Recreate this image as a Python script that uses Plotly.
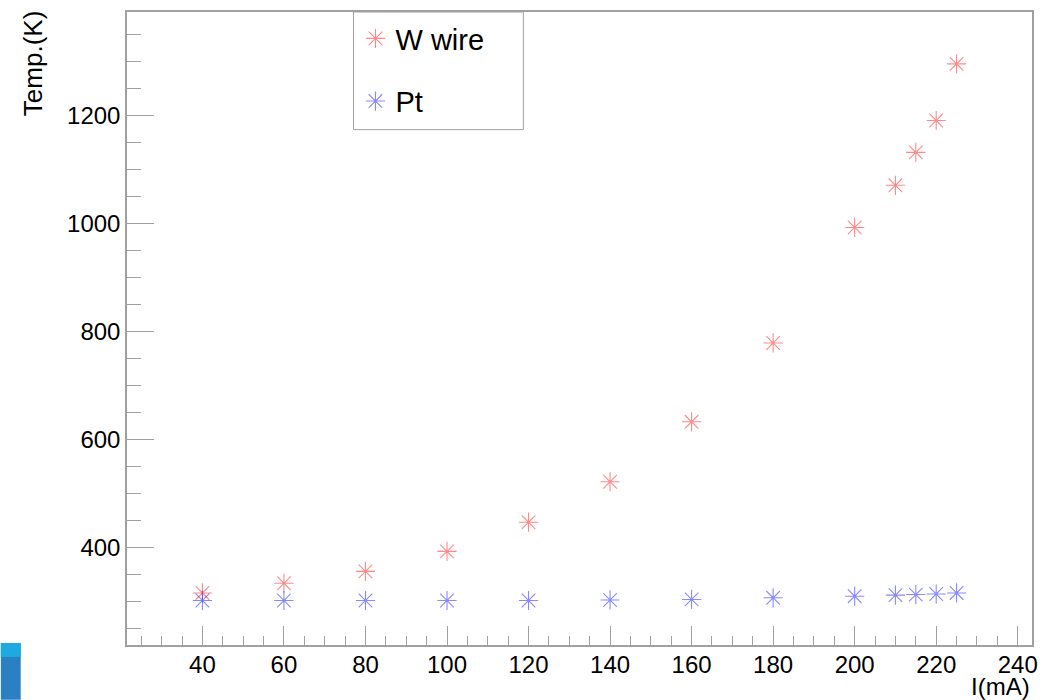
import plotly.graph_objects as go

current_mA = [40, 60, 80, 100, 120, 140, 160, 180, 200, 210, 215, 220, 225]
temp_w_wire = [316, 334, 356, 393, 447, 522, 633, 779, 993, 1071, 1132, 1191, 1296]
temp_pt = [302, 302, 302, 302, 302, 303, 304, 307, 310, 312, 313, 314, 316]

x_ticks = [40, 60, 80, 100, 120, 140, 160, 180, 200, 220, 240]
y_ticks = [400, 600, 800, 1000, 1200]

FONT = "Liberation Sans, Arial, Helvetica, sans-serif"
AX = "#a0a0a0"
PW, PH = 911, 635

fig = go.Figure()
fig.add_trace(go.Scatter(
    x=current_mA, y=temp_w_wire, mode="markers", name="W wire",
    legendgroup="w",
    marker=dict(symbol="asterisk-open", size=16,
                line=dict(width=1.1, color="rgba(255,40,40,0.55)"),
                color="rgba(255,40,40,0.55)"),
))
fig.add_trace(go.Scatter(
    x=current_mA, y=temp_pt, mode="markers", name="Pt",
    legendgroup="p",
    marker=dict(symbol="asterisk-open", size=16,
                line=dict(width=1.1, color="rgba(40,40,255,0.55)"),
                color="rgba(40,40,255,0.55)"),
))

fig.update_layout(
    width=1048, height=700,
    margin=dict(l=127, r=10, t=10, b=55),
    paper_bgcolor="white", plot_bgcolor="white",
    font=dict(family=FONT, size=24, color="black"),
    showlegend=True,
    legend=dict(
        x=(357 - 127) / PW, y=1.0 - 1 / PH, xanchor="left", yanchor="top",
        bgcolor="rgba(0,0,0,0)", borderwidth=0,
        font=dict(family=FONT, size=29, color="black"),
        tracegroupgap=22, traceorder="grouped",
        itemsizing="trace",
    ),
    xaxis=dict(
        range=[21.5, 243.5], tickvals=x_ticks,
        ticks="inside", ticklen=19, tickwidth=1, tickcolor=AX,
        showline=True, linecolor=AX, linewidth=1.5, mirror=True,
        showgrid=False, zeroline=False,
        minor=dict(dtick=5, tick0=0, ticks="inside", ticklen=9,
                   tickcolor=AX, tickwidth=1, showgrid=False),
        tickfont=dict(size=24), ticklabelstandoff=-3,
    ),
    yaxis=dict(
        range=[219.6, 1392], tickvals=y_ticks,
        ticks="inside", ticklen=27, tickwidth=1, tickcolor=AX,
        showline=True, linecolor=AX, linewidth=1.5, mirror=True,
        showgrid=False, zeroline=False,
        minor=dict(dtick=50, tick0=0, ticks="inside", ticklen=14,
                   tickcolor=AX, tickwidth=1, showgrid=False),
        tickfont=dict(size=24),
    ),
    annotations=[
        dict(text="I(mA)", xref="paper", yref="paper", x=1.0, y=-(687 - 645) / PH,
             xanchor="right", yanchor="middle", showarrow=False,
             font=dict(size=24)),
        dict(text="Temp.(K)", xref="paper", yref="paper", x=-(127 - 32) / PW,
             y=1.0 + 3 / PH,
             xanchor="center", yanchor="top", textangle=-90, showarrow=False,
             font=dict(size=26)),
    ],
    shapes=[
        dict(type="rect", xref="paper", yref="paper",
             x0=(355 - 127) / PW, x1=(526 - 127) / PW,
             y0=(645 - 128) / PH, y1=1.0,
             fillcolor="white", line=dict(width=1, color=AX), layer="below"),
        dict(type="rect", xref="paper", yref="paper",
             x0=-127 / PW, x1=-107 / PW, y0=-55 / PH, y1=2 / PH,
             fillcolor="#2a80c3", line=dict(width=0), layer="above"),
        dict(type="rect", xref="paper", yref="paper",
             x0=-127 / PW, x1=-107 / PW, y0=-12 / PH, y1=2 / PH,
             fillcolor="#1ea9e1", line=dict(width=0), layer="above"),
    ],
)

fig.write_html("out.html")
